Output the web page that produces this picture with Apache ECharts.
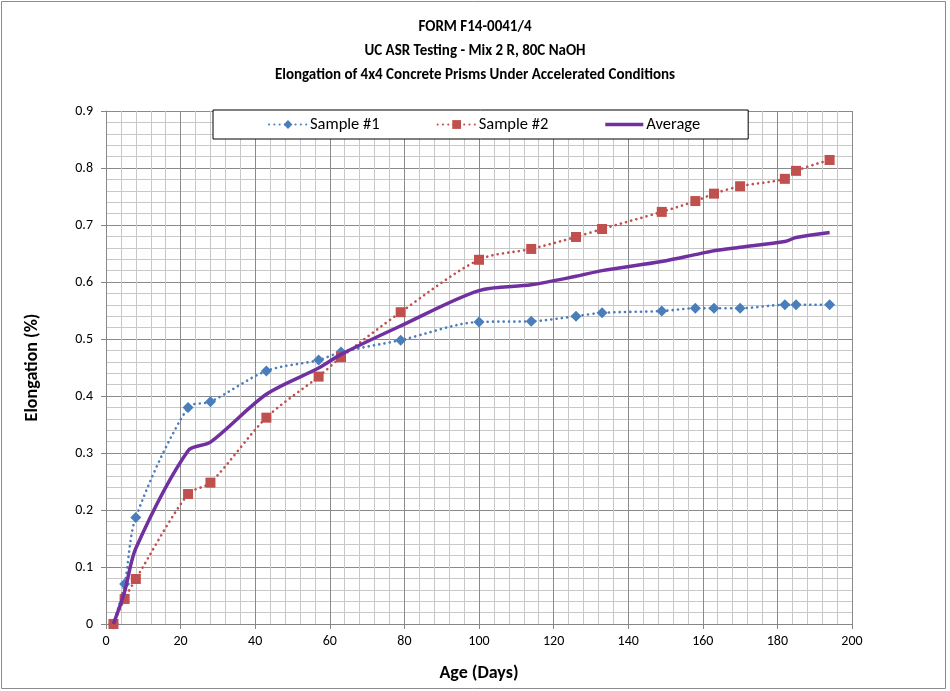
<!DOCTYPE html>
<html><head><meta charset="utf-8">
<script src="https://cdn.jsdelivr.net/npm/echarts@6/dist/echarts.min.js"></script>
<style>html,body{margin:0;padding:0;background:#fff}#c{width:950px;height:691px}</style>
</head><body><div id="c"></div>
<script>
const titleLines = ['FORM F14-0041/4', 'UC ASR Testing - Mix 2 R, 80C NaOH', 'Elongation of 4x4 Concrete Prisms Under Accelerated Conditions'];
const days = [2, 5, 8, 22, 28, 43, 57, 63, 79, 100, 114, 126, 133, 149, 158, 163, 170, 182, 185, 194];
const sample1 = [0, 0.070, 0.187, 0.380, 0.390, 0.444, 0.463, 0.477, 0.498, 0.530, 0.531, 0.540, 0.546, 0.549, 0.554, 0.554, 0.554, 0.560, 0.560, 0.560];
const sample2 = [0, 0.044, 0.079, 0.228, 0.248, 0.362, 0.434, 0.468, 0.547, 0.639, 0.658, 0.679, 0.693, 0.723, 0.742, 0.755, 0.768, 0.781, 0.795, 0.814];
const average = [0, 0.057, 0.133, 0.304, 0.319, 0.403, 0.449, 0.473, 0.523, 0.585, 0.595, 0.610, 0.620, 0.636, 0.648, 0.655, 0.661, 0.671, 0.678, 0.687];
const seriesNames = ['Sample #1', 'Sample #2', 'Average'];
const xAxisName = 'Age (Days)';
const yAxisName = 'Elongation (%)';

const FONT = 'Carlito, Lato, "Open Sans", sans-serif';
const pairs = (ys) => days.map((d, i) => [d, ys[i]]);
const DOTS = [0.1, 5.2];
// thick horizontal bar icon; tiny corner subpaths keep the icon box full height
const LINE_ICON = 'path://M0,0L0.01,0L0,0.01Z M0,10L0.01,10L0,9.99Z M0,3.2L37,3.2L37,6.8L0,6.8Z';

const chart = echarts.init(document.getElementById('c'), null, {renderer: 'canvas'});
chart.setOption({
  animation: false,
  backgroundColor: '#fff',
  textStyle: {fontFamily: FONT},
  title: {
    text: titleLines.join('\n'),
    left: 'center', top: 10,
    textStyle: {fontFamily: FONT, fontSize: 15, fontWeight: 'bold', color: '#000', lineHeight: 24}
  },
  graphic: [{type: 'rect', shape: {x: 1.5, y: 1.5, width: 944, height: 687}, style: {fill: 'none', stroke: '#8c8c8c', lineWidth: 1}, silent: true}],
  legend: {
    data: [seriesNames[0], seriesNames[1], {name: seriesNames[2], icon: LINE_ICON}],
    left: 213, top: 110,
    padding: [6, 48, 6, 55],
    itemGap: 57, itemWidth: 38, itemHeight: 11,
    backgroundColor: '#fff', borderColor: '#000', borderWidth: 1,
    textStyle: {fontFamily: FONT, fontSize: 16.5, color: '#000', padding: [0, 0, 0, -2]}
  },
  grid: {left: 106, right: 98, top: 111, bottom: 67, containLabel: false},
  xAxis: {
    type: 'value', min: 0, max: 200, interval: 20,
    name: xAxisName, nameLocation: 'middle', nameGap: 40,
    nameTextStyle: {fontFamily: FONT, fontSize: 18, fontWeight: 'bold', color: '#000'},
    axisLine: {show: true, lineStyle: {color: '#868686', width: 1}},
    axisTick: {show: true, inside: false, length: 5, lineStyle: {color: '#868686'}},
    minorTick: {show: false, splitNumber: 5},
    minorSplitLine: {show: true, lineStyle: {color: '#c8c8c8', width: 1}},
    splitLine: {show: true, lineStyle: {color: '#8a8a8a', width: 1}},
    axisLabel: {fontFamily: FONT, fontSize: 14, color: '#000', margin: 10}
  },
  yAxis: {
    type: 'value', min: 0, max: 0.9, interval: 0.1,
    name: yAxisName, nameLocation: 'middle', nameGap: 65, nameRotate: 90,
    nameTextStyle: {fontFamily: FONT, fontSize: 18, fontWeight: 'bold', color: '#000'},
    axisLine: {show: true, lineStyle: {color: '#868686', width: 1}},
    axisTick: {show: true, inside: false, length: 5, lineStyle: {color: '#868686'}},
    minorTick: {show: false, splitNumber: 5},
    minorSplitLine: {show: true, lineStyle: {color: '#c8c8c8', width: 1}},
    splitLine: {show: true, lineStyle: {color: '#8a8a8a', width: 1}},
    axisLabel: {fontFamily: FONT, fontSize: 14, color: '#000', margin: 13, formatter: v => String(Math.round(v * 10) / 10)}
  },
  series: [
    {name: seriesNames[0], type: 'line', data: pairs(sample1), smooth: 0.3,
     symbol: 'diamond', symbolSize: 11,
     itemStyle: {color: '#4A7EBB'},
     lineStyle: {color: '#4A7EBB', width: 2.6, type: DOTS, cap: 'round'}, z: 3},
    {name: seriesNames[1], type: 'line', data: pairs(sample2), smooth: 0.3,
     symbol: 'rect', symbolSize: 10,
     itemStyle: {color: '#C0504D'},
     lineStyle: {color: '#C0504D', width: 2.6, type: DOTS, cap: 'round'}, z: 3},
    {name: seriesNames[2], type: 'line', data: pairs(average), smooth: 0.3,
     symbol: 'none', showSymbol: false,
     itemStyle: {color: '#7030A0'},
     lineStyle: {color: '#7030A0', width: 3.5}, z: 4}
  ]
});
</script></body></html>
